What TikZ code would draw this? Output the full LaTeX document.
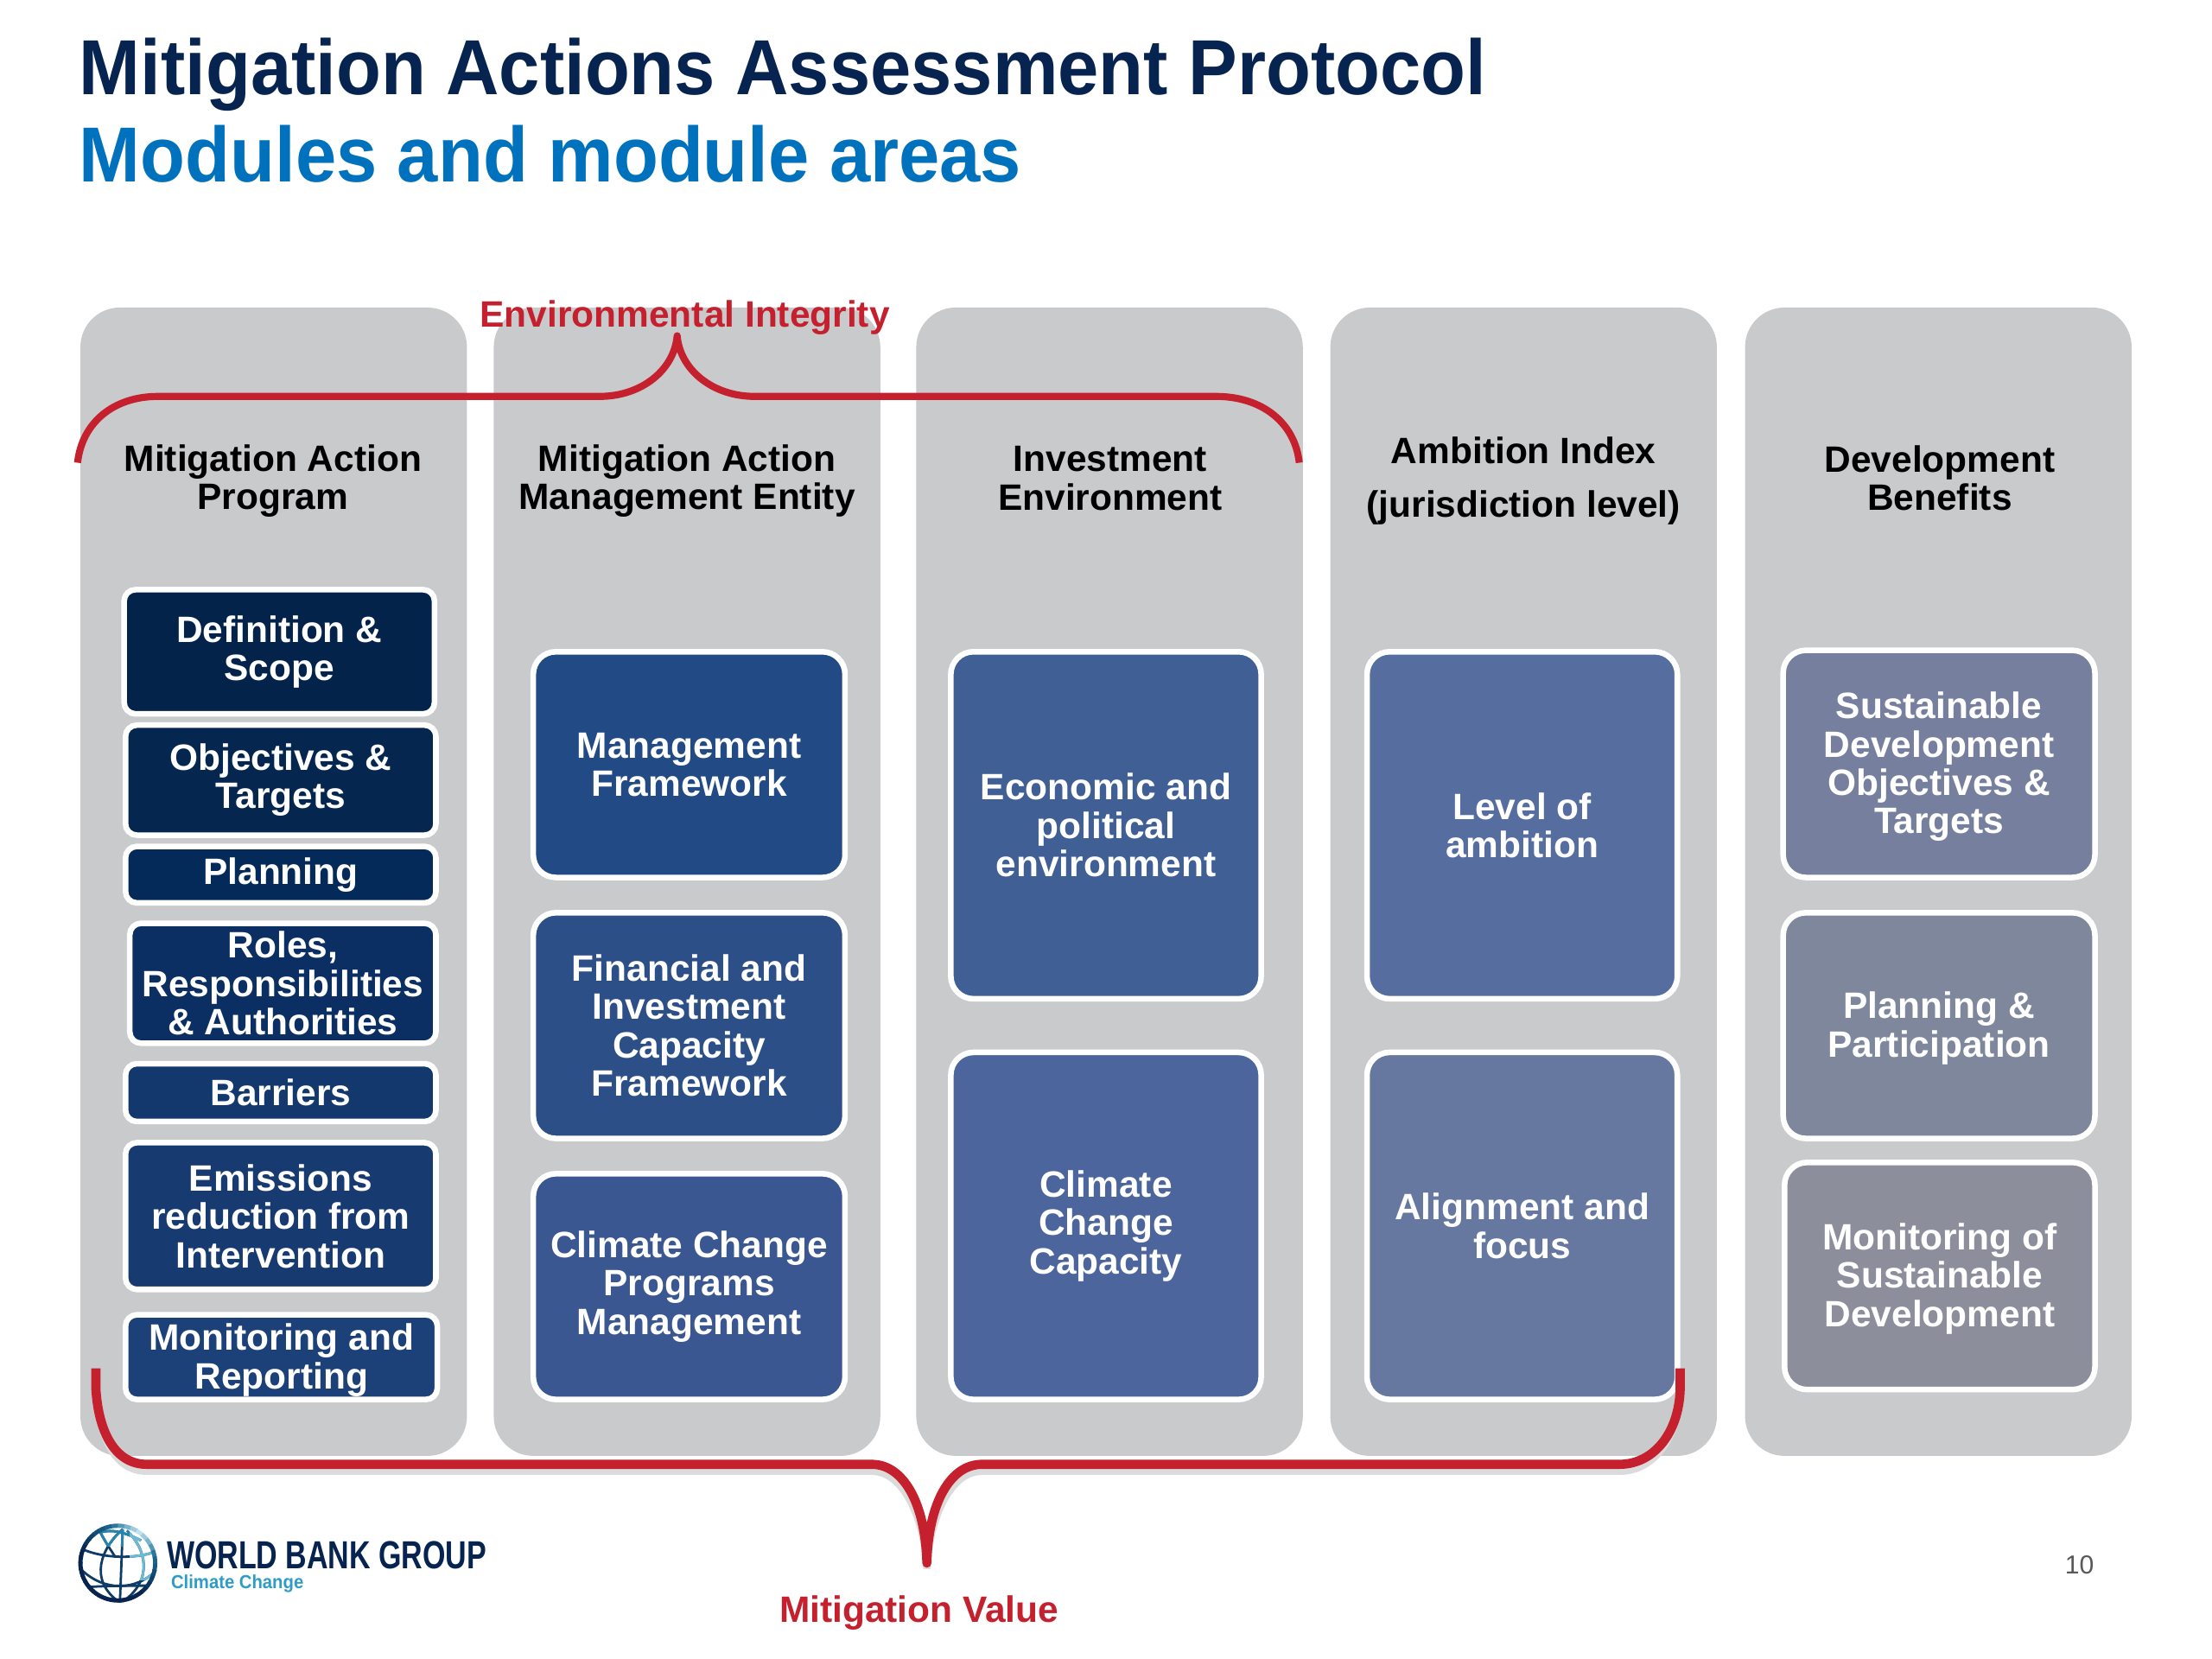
\documentclass[tikz,border=0pt]{standalone}
\usepackage{fontspec}
\setmainfont{Liberation Sans}
\newlength{\uu}\setlength{\uu}{0.02cm}
\definecolor{colgrey}{HTML}{C9CACC}
\definecolor{navy}{HTML}{06244F}
\definecolor{wbblue}{HTML}{0071BC}
\definecolor{bracered}{HTML}{C4202E}
\definecolor{logoblue}{HTML}{2E9CC4}
\tikzset{
  colbox/.style={fill=colgrey,draw=none,rounded corners=28*\uu,inner sep=0pt,minimum width=274*\uu},
  modbox/.style={draw=white,line width=4*\uu,rounded corners=16*\uu,text=white,align=center,inner sep=0pt,
     font=\fontsize{14.8}{15.5}\selectfont\bfseries},
  smallbox/.style={modbox,rounded corners=8*\uu},
  head/.style={text=black,align=center,inner sep=0pt,font=\fontsize{14.8}{15.5}\selectfont\bfseries},
  title/.style={anchor=base west,inner sep=0pt,xscale=.94,font=\fontsize{31.5}{36}\selectfont\bfseries},
  redlabel/.style={text=bracered,inner sep=0pt,font=\fontsize{14.8}{16}\selectfont\bfseries},
  brace/.style={draw=bracered,line width=5*\uu,line join=round},
}
\newcommand{\modnode}[8][modbox]{%
  \node[#1,fill=#3,minimum width=#6*\uu,minimum height=#7*\uu] (#2) at (#4,#5) {#8};}
\newcommand{\dn}{\rule{0pt}{13pt}}
\newcommand{\globegrid}[1]{%
  \begin{scope}[draw=#1,line width=1.7*\uu]
  \draw (87,1084) -- (85,1136);
  \draw (87,1084) .. controls (72,1097) and (62,1120) .. (85,1136);
  \draw (90,1085) .. controls (103,1097) and (110,1120) .. (86,1136);
  \draw (58,1098) .. controls (74,1105) and (96,1105) .. (110,1100);
  \draw (58,1113) .. controls (74,1128) and (96,1128) .. (111,1113);
  \draw (63,1125) .. controls (74,1124) and (96,1124) .. (106,1124);
  \draw (70,1084) .. controls (74,1092) and (78,1098) .. (82,1104);
  \draw (72,1086) .. controls (80,1084) and (88,1086) .. (100,1092);
  \end{scope}}
\begin{document}
\begin{tikzpicture}[x=0.02cm,y=-0.02cm]
\useasboundingbox (0,0) rectangle (1568,1176);
\fill[white] (0,0) rectangle (1568,1176);
% title
\node[title,text=navy] (t1) at (56,67) {Mitigation Actions Assessment Protocol};
\node[title,text=wbblue] (t2) at (56,129) {Modules and module areas};
% columns
\node[colbox,minimum height=814*\uu] (c1) at (194,625) {};
\node[colbox,minimum height=814*\uu] (c2) at (487,625) {};
\node[colbox,minimum height=814*\uu] (c3) at (786.5,625) {};
\node[colbox,minimum height=814*\uu] (c4) at (1080,625) {};
\node[colbox,minimum height=814*\uu] (c5) at (1374,625) {};
% headers
\node[head] (h1) at (193.5,341) {Mitigation Action\\Program};
\node[head] (h2) at (487,341) {Mitigation Action\\Management Entity};
\node[head] (h3) at (787,339) {Investment\\Environment};
\node[head,font=\fontsize{14.8}{21.5}\selectfont\bfseries] (h4) at (1080,341) {Ambition Index\\(jurisdiction level)};
\node[head] (h5) at (1375,339) {Development\\Benefits};
% column 1
\definecolor{a1}{HTML}{03234A}\definecolor{a2}{HTML}{04264F}\definecolor{a3}{HTML}{042A5A}
\definecolor{a4}{HTML}{0B2F63}\definecolor{a5}{HTML}{12386D}\definecolor{a6}{HTML}{173A70}\definecolor{a7}{HTML}{1C4078}
\modnode[smallbox]{m1}{a1}{198}{462}{220}{88}{Definition \&\\Scope}
\modnode[smallbox]{m2}{a2}{199}{553}{220}{78}{Objectives \&\\Targets}
\modnode[smallbox]{m3}{a3}{199}{620}{220}{40}{Planning}
\modnode[smallbox]{m4}{a4}{200.5}{697}{217}{85}{Roles,\\Responsibilities\\\& Authorities}
\modnode[smallbox]{m5}{a5}{199}{774.5}{220}{41}{Barriers}
\modnode[smallbox]{m6}{a6}{199}{862}{220}{104}{Emissions\\reduction from\\Intervention}
\modnode[smallbox]{m7}{a7}{199.5}{962}{221}{60}{\dn Monitoring and\\Reporting}
% column 2
\definecolor{b1}{HTML}{224A85}\definecolor{b2}{HTML}{2C4F88}\definecolor{b3}{HTML}{3A5792}
\modnode{n1}{b1}{488.5}{542}{221}{160}{Management\\Framework}
\modnode{n2}{b2}{488.5}{727}{221}{160}{Financial and\\Investment\\Capacity\\Framework}
\modnode{n3}{b3}{488.5}{912}{221}{160}{Climate Change\\Programs\\Management}
% column 3
\definecolor{d1}{HTML}{405F95}\definecolor{d2}{HTML}{4C659C}
\modnode{p1}{d1}{784}{585}{220}{246}{Economic and\\political\\environment}
\modnode{p2}{d2}{784}{869}{220}{246}{Climate\\Change\\Capacity}
% column 4
\definecolor{e1}{HTML}{566E9F}\definecolor{e2}{HTML}{6678A0}
\modnode{q1}{e1}{1079}{585}{220}{246}{Level of\\ambition}
\modnode{q2}{e2}{1079}{869}{220}{246}{Alignment and\\focus}
% column 5
\definecolor{f1}{HTML}{76809E}\definecolor{f2}{HTML}{7E879C}\definecolor{f3}{HTML}{8C8E9C}
\modnode{r1}{f1}{1374.5}{541.5}{221}{161}{\dn Sustainable\\Development\\Objectives \&\\Targets}
\modnode{r2}{f2}{1374.5}{727}{221}{160}{\dn Planning \&\\Participation}
\modnode{r3}{f3}{1375}{904.5}{220}{161}{\dn Monitoring of\\Sustainable\\Development}
% top brace
\coordinate (ea) at (55,328);
\coordinate (eb) at (480,238);
\coordinate (ec) at (921,328);
\draw[brace] (ea) .. controls (58,300) and (80,281) .. (112,281) -- (425,281)
  .. controls (455,281) and (478,262) .. (eb)
  .. controls (482,262) and (505,281) .. (535,281) -- (862,281)
  .. controls (895,281) and (918,300) .. (ec);
% bottom brace
\coordinate (ma) at (68,970);
\coordinate (mb) at (657,1108);
\coordinate (mc) at (1191,970);
\draw[draw=black!14,line width=5*\uu] (68,974) -- (68,985) .. controls (70,1020) and (82,1043) .. (104,1043) -- (618,1043)
  .. controls (640,1043) and (655,1075) .. (657,1112)
  .. controls (659,1075) and (674,1043) .. (696,1043) -- (1148,1043)
  .. controls (1172,1043) and (1190,1020) .. (1191,985);
\draw[brace,line width=6.5*\uu] (ma) -- (68,985) .. controls (70,1016) and (82,1038) .. (104,1038) -- (618,1038)
  .. controls (640,1038) and (656,1065) .. (mb)
  .. controls (658,1065) and (674,1038) .. (696,1038) -- (1148,1038)
  .. controls (1172,1038) and (1190,1016) .. (1191,985) -- (mc);
% red labels
\node[redlabel] (env) at (485.5,225) {Environmental Integrity};
\node[redlabel] (mit) at (651.5,1143) {Mitigation Value};
% logo
\coordinate (gc) at (83.5,1108);
\begin{scope}
\clip (gc) circle (28);
\globegrid{navy!80!logoblue}
\begin{scope}
\clip (55,1078) rectangle (112,1096);
\globegrid{logoblue!80!navy}
\end{scope}
\begin{scope}
\clip (92,1078) rectangle (112,1120);
\globegrid{logoblue!70!white}
\end{scope}
\end{scope}
\foreach \a in {0,10,...,350}{
  \pgfmathsetmacro{\dd}{abs(mod(\a-300+540,360)-180)}
  \pgfmathsetmacro{\mx}{min(100,\dd*0.95)}
  \pgfmathsetmacro{\wh}{100-max(0,min(70,70-\dd*1.6))}
  \draw[draw=navy!\mx!logoblue!\wh!white,line width=3*\uu]
     ([shift={(\a:26.5)}]gc) arc[start angle=\a,end angle=\a+11,radius=26.5];
}
\node[inner sep=0pt,anchor=base west,text=navy,font=\fontsize{15.8}{16}\selectfont\bfseries,xscale=.75] (wb) at (118,1112) {WORLD BANK GROUP};
\node[inner sep=0pt,anchor=base west,text=logoblue,font=\fontsize{7.6}{8}\selectfont\bfseries,xscale=.93] (cc) at (121,1126) {Climate Change};
% page number
\node[inner sep=0pt,text=black!65,font=\fontsize{10.5}{12}\selectfont] (pg) at (1474,1109) {10};
\end{tikzpicture}
\end{document}
